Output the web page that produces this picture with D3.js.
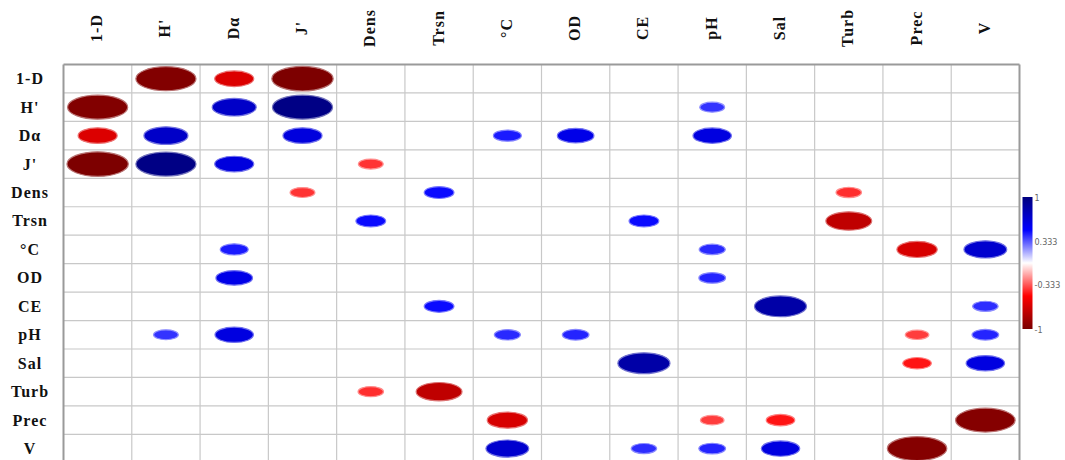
<!DOCTYPE html>
<html>
<head>
<meta charset="utf-8">
<script src="https://cdn.jsdelivr.net/npm/d3@7"></script>
<style>
  html, body { margin: 0; padding: 0; background: #ffffff; }
  svg { display: block; }
</style>
</head>
<body>
<svg id="chart" width="1065" height="460"></svg>
<script>
// Variables shown on both axes of the correlation matrix
const variables = ["1-D", "H'", "Dα", "J'", "Dens", "Trsn", "°C", "OD", "CE", "pH", "Sal", "Turb", "Prec", "V"];

// Significant pairwise correlations: [variable A, variable B, r]
const correlations = [
  ["1-D", "H'", -0.97],
  ["1-D", "Dα", -0.63],
  ["1-D", "J'", -0.99],
  ["H'", "Dα", 0.71],
  ["H'", "J'", 0.97],
  ["H'", "pH", 0.40],
  ["Dα", "J'", 0.63],
  ["Dα", "°C", 0.45],
  ["Dα", "OD", 0.59],
  ["Dα", "pH", 0.62],
  ["J'", "Dens", -0.40],
  ["Dens", "Trsn", 0.48],
  ["Dens", "Turb", -0.41],
  ["Trsn", "CE", 0.48],
  ["Trsn", "Turb", -0.74],
  ["°C", "pH", 0.42],
  ["°C", "Prec", -0.65],
  ["°C", "V", 0.69],
  ["OD", "pH", 0.43],
  ["CE", "Sal", 0.84],
  ["CE", "V", 0.41],
  ["pH", "Prec", -0.38],
  ["pH", "V", 0.43],
  ["Sal", "Prec", -0.46],
  ["Sal", "V", 0.62],
  ["Prec", "V", -0.96]
];

// Colour bar tick labels
const legendTicks = [1, 0.333, -0.333, -1];
const legendTickLabels = ["1", "0.333", "-0.333", "-1"];

const svg = d3.select("#chart");

const gridLeft = 63.5, gridRight = 1019.5;
const gridTop = 64.5, rowH = 28.45;

const x = d3.scaleBand().domain(variables).range([gridLeft, gridRight]);
const y = d3.scaleBand().domain(variables).range([gridTop, gridTop + rowH * variables.length]);

const color = d3.scaleLinear()
  .domain([-1, -0.5, 0, 0.5, 1])
  .range(["#7a0000", "#ff0000", "#ffffff", "#0000ff", "#00007d"])
  .interpolate(d3.interpolateRgb);

// Ellipse size scales with |r|
const rxScale = d3.scaleLinear().domain([0, 1]).range([0, 31]);
const aspect = 0.4;

// Grid lines
const grid = svg.append("g");
variables.forEach((v, i) => {
  if (i > 0) {
    grid.append("line")
      .attr("x1", x(v)).attr("x2", x(v))
      .attr("y1", gridTop).attr("y2", 460)
      .attr("stroke", "#c8c8c8").attr("stroke-width", 1.2);
    grid.append("line")
      .attr("x1", gridLeft).attr("x2", gridRight)
      .attr("y1", y(v)).attr("y2", y(v))
      .attr("stroke", "#c8c8c8").attr("stroke-width", 1.2);
  }
});
// Outer frame
grid.append("line").attr("x1", gridLeft).attr("x2", gridRight).attr("y1", gridTop).attr("y2", gridTop)
  .attr("stroke", "#9a9a9a").attr("stroke-width", 2);
grid.append("line").attr("x1", gridLeft).attr("x2", gridLeft).attr("y1", gridTop).attr("y2", 460)
  .attr("stroke", "#9a9a9a").attr("stroke-width", 2);
grid.append("line").attr("x1", gridRight).attr("x2", gridRight).attr("y1", gridTop).attr("y2", 460)
  .attr("stroke", "#9a9a9a").attr("stroke-width", 2);

// Mirror each pair so the matrix is symmetric
const cells = [];
correlations.forEach(([a, b, r]) => {
  cells.push({ row: a, col: b, r });
  cells.push({ row: b, col: a, r });
});

svg.append("g").selectAll("ellipse")
  .data(cells)
  .join("ellipse")
  .attr("cx", d => x(d.col) + x.bandwidth() / 2)
  .attr("cy", d => y(d.row) + y.bandwidth() / 2)
  .attr("rx", d => rxScale(Math.abs(d.r)))
  .attr("ry", d => rxScale(Math.abs(d.r)) * aspect)
  .attr("fill", d => color(d.r))
  .attr("stroke", d => d3.interpolateRgb(color(d.r), "#ffffff")(0.45))
  .attr("stroke-width", 1.2);

// Row labels
const labelFont = "'Liberation Serif', 'Times New Roman', serif";
svg.append("g").selectAll("text")
  .data(variables)
  .join("text")
  .attr("x", 30)
  .attr("y", d => y(d) + y.bandwidth() / 2)
  .attr("text-anchor", "middle")
  .attr("dominant-baseline", "central")
  .attr("font-family", labelFont)
  .attr("font-weight", "bold")
  .attr("font-size", 16)
  .attr("letter-spacing", 1)
  .attr("fill", "#111")
  .text(d => d);

// Column labels, rotated
svg.append("g").selectAll("text")
  .data(variables)
  .join("text")
  .attr("transform", d => `translate(${x(d) + x.bandwidth() / 2 - 1},28) rotate(-90)`)
  .attr("text-anchor", "middle")
  .attr("dominant-baseline", "central")
  .attr("font-family", labelFont)
  .attr("font-weight", "bold")
  .attr("font-size", 16)
  .attr("letter-spacing", 1)
  .attr("fill", "#111")
  .text(d => d);

// Colour bar
const legendX = 1022.5, legendW = 10;
const legendY = d3.scaleLinear().domain([1, -1]).range([197, 329]);
const defs = svg.append("defs");
const grad = defs.append("linearGradient")
  .attr("id", "corrGrad")
  .attr("x1", 0).attr("x2", 0).attr("y1", 0).attr("y2", 1);
d3.range(0, 1.0001, 0.05).forEach(t => {
  grad.append("stop")
    .attr("offset", t)
    .attr("stop-color", color(1 - 2 * t));
});
svg.append("rect")
  .attr("x", legendX).attr("y", legendY(1))
  .attr("width", legendW).attr("height", legendY(-1) - legendY(1))
  .attr("fill", "url(#corrGrad)");

svg.append("g").selectAll("text")
  .data(legendTicks)
  .join("text")
  .attr("x", legendX + legendW + 2)
  .attr("y", d => legendY(d) + 1)
  .attr("dominant-baseline", "central")
  .attr("font-family", "'DejaVu Sans', sans-serif")
  .attr("font-size", 8)
  .attr("fill", "#666")
  .text((d, i) => legendTickLabels[i]);
</script>
</body>
</html>
